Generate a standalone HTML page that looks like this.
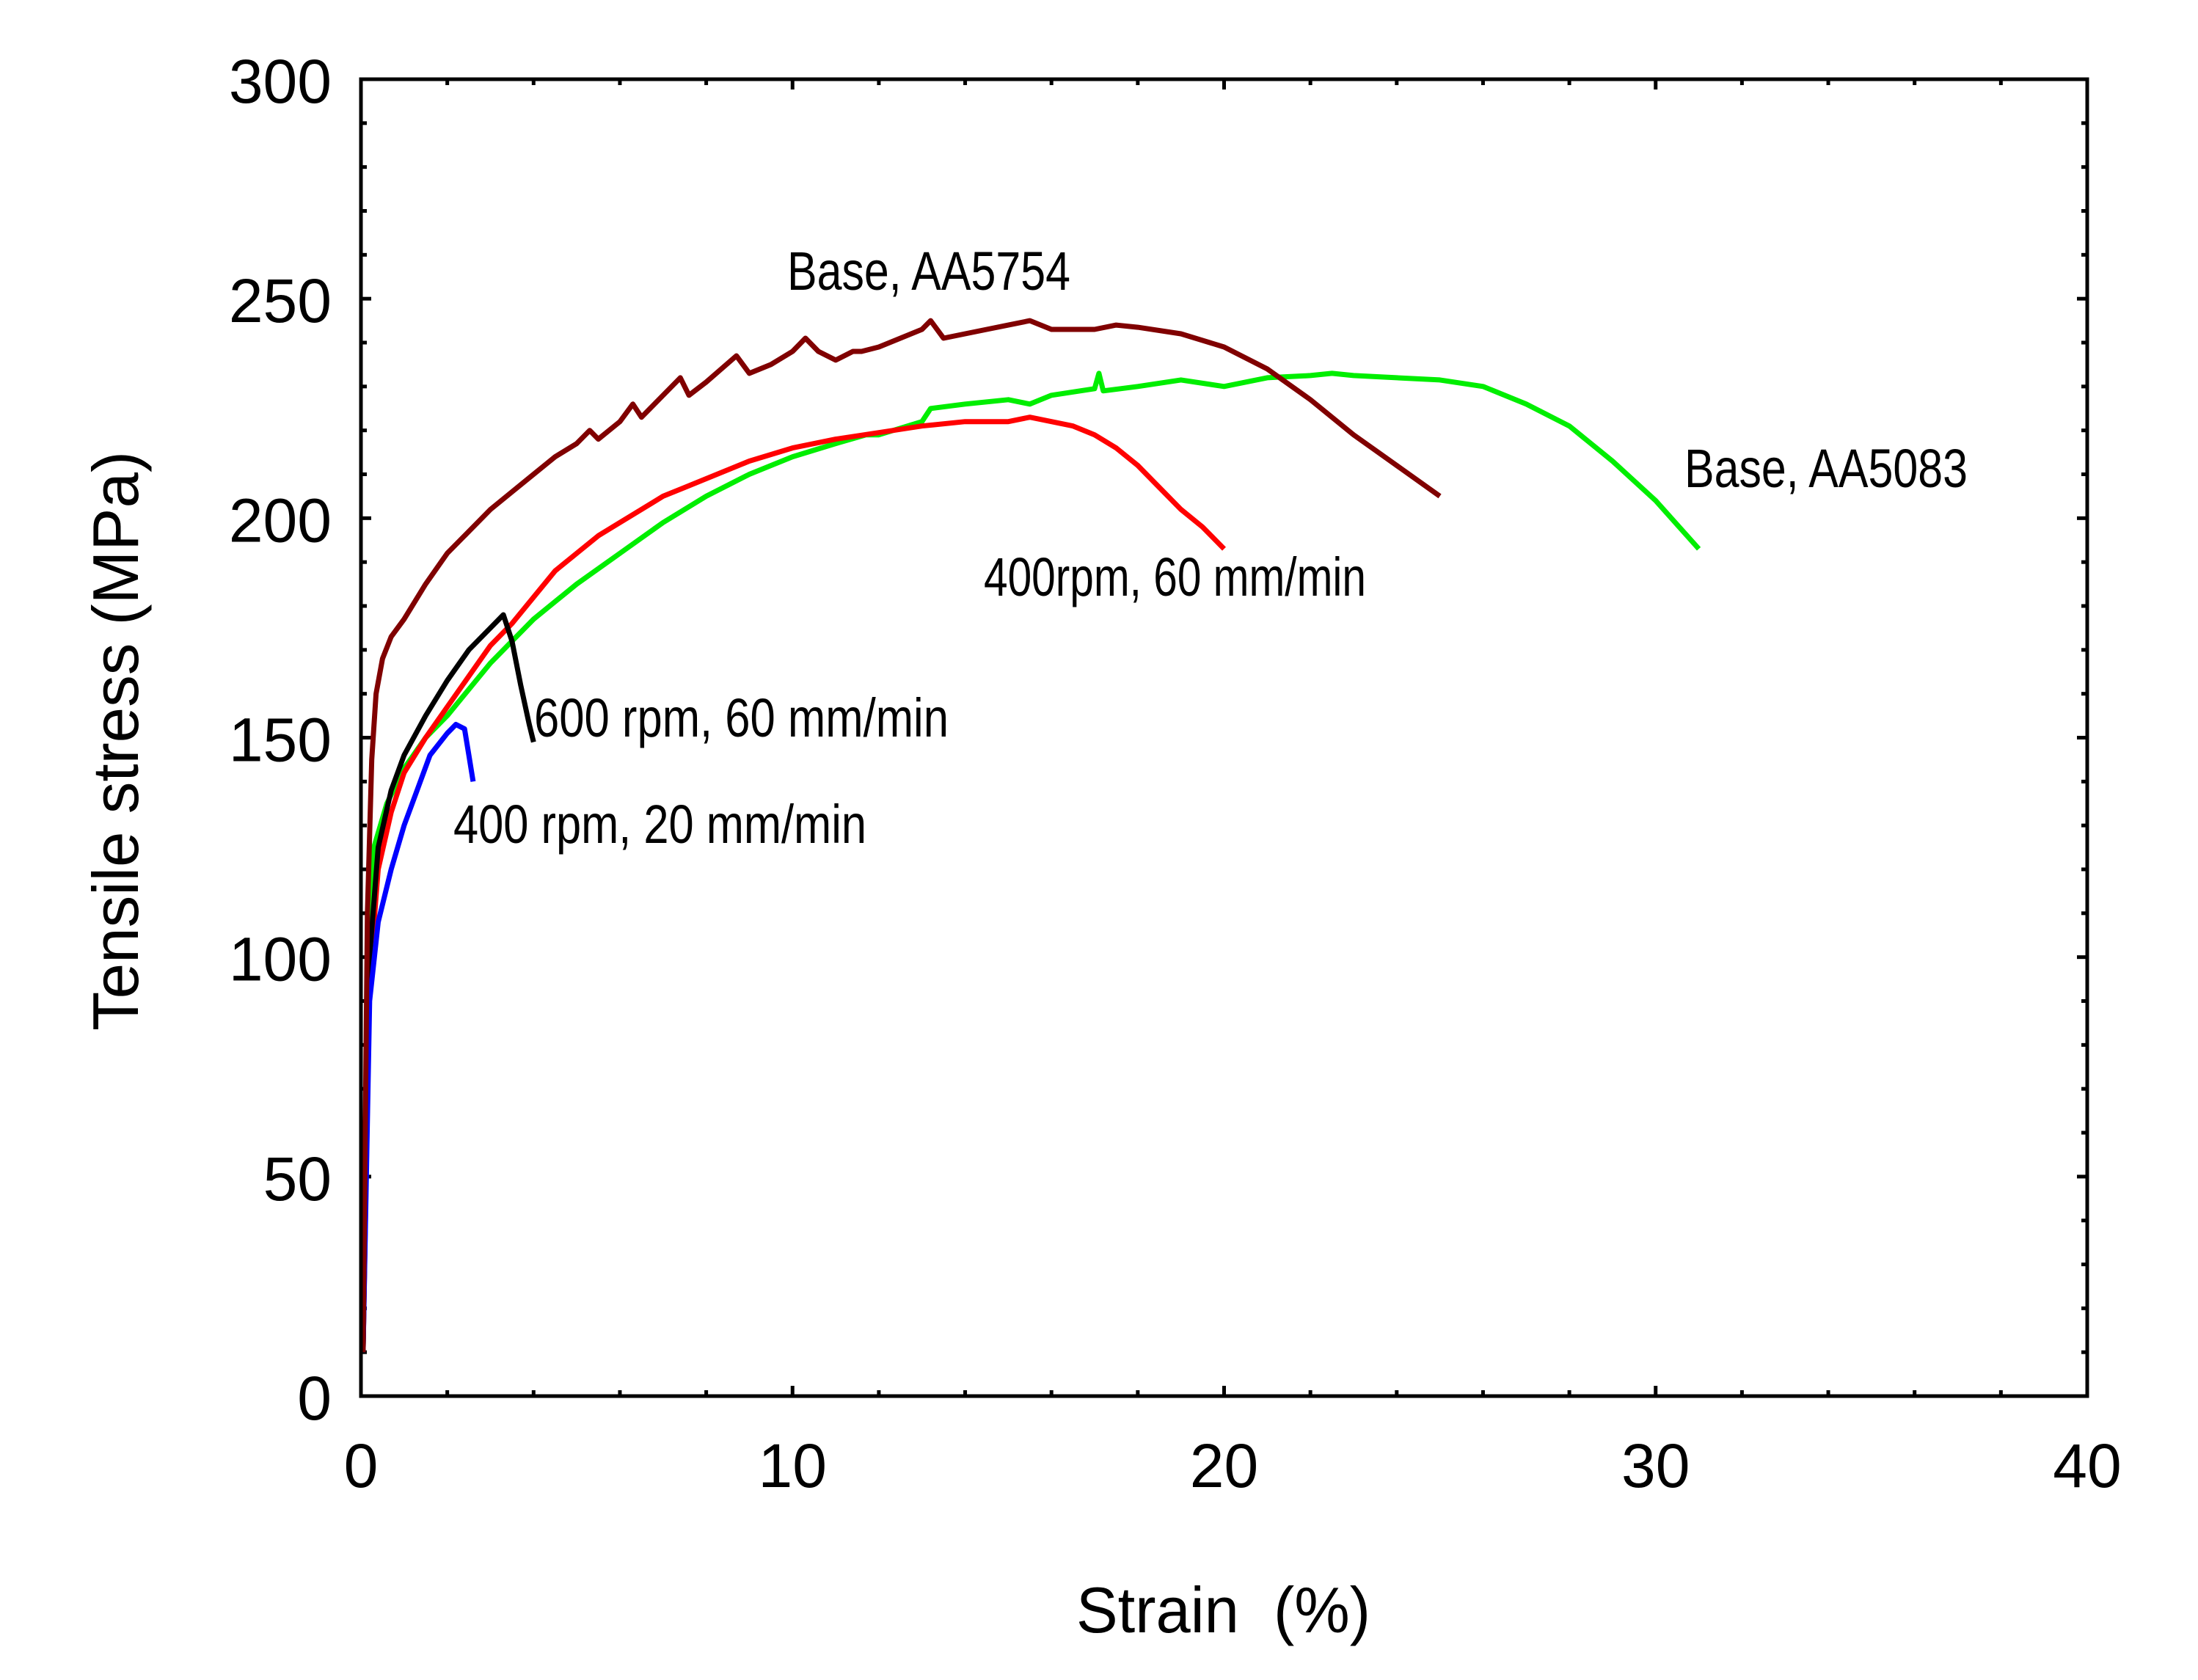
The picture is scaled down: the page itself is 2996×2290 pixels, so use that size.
<!DOCTYPE html>
<html><head><meta charset="utf-8"><style>
html,body{margin:0;padding:0;background:#fff;}
svg{display:block;font-family:"Liberation Sans",Arial,sans-serif;}
</style></head><body>
<svg id="chart" width="2996" height="2290" viewBox="0 0 2996 2290" xmlns="http://www.w3.org/2000/svg">
<rect width="2996" height="2290" fill="#fff"/>
<g id="ticks"></g>
<g id="series"></g>
<rect x="492" y="108" width="2353" height="1795" fill="none" stroke="#000" stroke-width="5"/>
<g id="labels" font-size="84" fill="#000"></g>
<text x="1467" y="2225" font-size="88" textLength="401" lengthAdjust="spacingAndGlyphs" xml:space="preserve">Strain  (%)</text>
<text transform="translate(188,1010) rotate(-90)" text-anchor="middle" font-size="88" textLength="790" lengthAdjust="spacingAndGlyphs">Tensile stress (MPa)</text>
<g font-size="74" fill="#000">
<text x="1073" y="395" textLength="386" lengthAdjust="spacingAndGlyphs">Base, AA5754</text>
<text x="2296" y="664" textLength="386" lengthAdjust="spacingAndGlyphs">Base, AA5083</text>
<text x="1341" y="812" textLength="521" lengthAdjust="spacingAndGlyphs">400rpm, 60 mm/min</text>
<text x="728" y="1004" textLength="565" lengthAdjust="spacingAndGlyphs">600 rpm, 60 mm/min</text>
<text x="618" y="1149" textLength="563" lengthAdjust="spacingAndGlyphs">400 rpm, 20 mm/min</text>
</g>
</svg>
<script>
const xTicks=[0,10,20,30,40];
const yTicks=[0,50,100,150,200,250,300];
const aa5754X=[0.05,0.15,0.25,0.35,0.5,0.7,1,1.5,2,2.5,3,3.5,4,4.5,5,5.3,5.5,6,6.3,6.5,7,7.4,7.6,8,8.7,9,9.5,10,10.3,10.6,11,11.4,11.6,12,12.5,13,13.2,13.5,14,14.5,15,15.5,16,17,17.5,18,19,20,21,22,23,24,25];
const aa5754Y=[10,110,145,160,168,173,177,185,192,197,202,206,210,214,217,220,218,222,226,223,228,232,228,231,237,233,235,238,241,238,236,238,238,239,241,243,245,241,242,243,244,245,243,243,244,243.5,242,239,234,227,219,212,205];
const aa5083X=[0.05,0.15,0.3,0.6,1,1.5,2,3,4,5,6,7,8,9,10,11,11.7,12,13,13.2,14,15,15.5,16,17,17.1,17.2,18,19,20,21,22,22.5,23,24,25,26,27,28,29,30,31];
const aa5083Y=[10,95,125,135,143,150,155,167,177,185,192,199,205,210,214,217,219,219,222,225,226,227,226,228,229.5,233,229,230,231.5,230,232,232.5,233,232.5,232,231.5,230,226,221,213,204,193];
const r400x60X=[0.05,0.2,0.4,0.7,1,1.5,2,2.5,3,3.5,4,4.5,5,5.5,6,6.5,7,7.5,8,8.5,9,10,11,12,13,14,15,15.5,16,16.5,17,17.5,18,18.5,19,19.5,20];
const r400x60Y=[10,95,120,133,142,150,157,164,171,176,182,188,192,196,199,202,205,207,209,211,213,216,218,219.5,221,222,222,223,222,221,219,216,212,207,202,198,193];
const r600x60X=[0.05,0.2,0.4,0.7,1,1.5,2,2.5,3,3.3,3.5,3.7,3.9,4];
const r600x60Y=[10,100,125,138,146,155,163,170,175,178,172,162,153,149];
const r400x20X=[0.05,0.2,0.4,0.7,1,1.3,1.6,2,2.2,2.4,2.5,2.6];
const r400x20Y=[10,90,108,120,130,138,146,151,153,152,146,140];

const X0=492,X1=2845,Y0=1903,Y1=108;
function sx(v){return X0+(v-0)/(40-0)*(X1-X0);}
function sy(v){return Y0-(v-0)/(300-0)*(Y0-Y1);}
const NS="http://www.w3.org/2000/svg";
const tg=document.getElementById('ticks');
function tick(x1,y1,x2,y2){const l=document.createElementNS(NS,'line');
l.setAttribute('x1',x1);l.setAttribute('y1',y1);l.setAttribute('x2',x2);l.setAttribute('y2',y2);
l.setAttribute('stroke','#000');l.setAttribute('stroke-width','5');


tg.appendChild(l);}
for(let v=0;v<=40;v+=2){const x=sx(v);const L=(v%10===0)?14:8;tick(x,Y0,x,Y0-L);tick(x,Y1,x,Y1+L);}
for(let v=0;v<=300;v+=10){const y=sy(v);const L=(v%50===0)?14:8;tick(X0,y,X0+L,y);tick(X1,y,X1-L,y);}
const lg=document.getElementById('labels');
xTicks.forEach(v=>{const t=document.createElementNS(NS,'text');t.setAttribute('x',sx(v));t.setAttribute('y',2027);t.setAttribute('text-anchor','middle');t.textContent=v;


lg.appendChild(t);});
yTicks.forEach(v=>{const t=document.createElementNS(NS,'text');t.setAttribute('x',452);t.setAttribute('y',sy(v)+32);t.setAttribute('text-anchor','end');t.textContent=v;


lg.appendChild(t);});
const sg=document.getElementById('series');
function draw(xs,ys,color,name){const p=document.createElementNS(NS,'polyline');
p.setAttribute('points',xs.map((x,i)=>sx(x).toFixed(1)+','+sy(ys[i]).toFixed(1)).join(' '));
p.setAttribute('fill','none');p.setAttribute('stroke',color);p.setAttribute('stroke-width','7');p.setAttribute('stroke-linejoin','round');


sg.appendChild(p);}
draw(aa5083X,aa5083Y,'#00ee00','series-base-aa5083');
draw(r400x60X,r400x60Y,'#ff0000','series-400rpm-60');
draw(r600x60X,r600x60Y,'#000000','series-600rpm-60');
draw(r400x20X,r400x20Y,'#0000ff','series-400rpm-20');
draw(aa5754X,aa5754Y,'#800000','series-base-aa5754');
</script>
</body></html>
